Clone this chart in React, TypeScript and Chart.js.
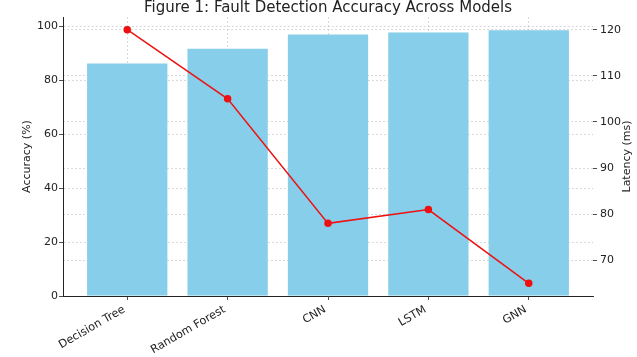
import React, { useEffect, useRef } from "react";
import { Chart, registerables } from "chart.js";

Chart.register(...registerables);

const categories = ["Decision Tree", "Random Forest", "CNN", "LSTM", "GNN"];
const accuracy = [86.2, 91.6, 96.9, 97.7, 98.5];
const latency = [120, 105, 78, 81, 65];
const titleText = "Figure 1: Fault Detection Accuracy Across Models";
const rightTitle = "Latency (ms)";

const FONT = "'DejaVu Sans', sans-serif";
const TEXT = "#222222";
const GRID = "rgba(176,176,176,0.6)";

const titlePlugin = {
  id: "customTitle",
  afterDraw(chart: any) {
    const { ctx, chartArea } = chart;
    ctx.save();
    ctx.font = `15px ${FONT}`;
    ctx.fillStyle = TEXT;
    ctx.textAlign = "center";
    ctx.textBaseline = "middle";
    ctx.fillText(titleText, (chartArea.left + chartArea.right) / 2, 8);
    ctx.translate(627, (chartArea.top + chartArea.bottom) / 2);
    ctx.rotate(-Math.PI / 2);
    ctx.font = `11px ${FONT}`;
    ctx.fillText(rightTitle, 0, 0);
    ctx.restore();
  },
};

export default function App() {
  const ref = useRef<HTMLCanvasElement>(null);
  useEffect(() => {
    document.body.style.margin = "0";
    const n = categories.length;
    const chart = new Chart(ref.current as HTMLCanvasElement, {
      type: "bar",
      data: {
        datasets: [
          {
            type: "line",
            label: "Latency (ms)",
            data: latency.map((v, i) => ({ x: i, y: v })),
            yAxisID: "y1",
            xAxisID: "x",
            borderColor: "#ee1111",
            backgroundColor: "#ee1111",
            borderWidth: 1.5,
            pointRadius: 3,
            pointHoverRadius: 3,
            order: 0,
          } as any,
          {
            type: "bar",
            label: "Accuracy (%)",
            data: accuracy.map((v, i) => ({ x: i, y: v })),
            yAxisID: "y",
            xAxisID: "x",
            backgroundColor: "#87CEEB",
            categoryPercentage: 1,
            barPercentage: 0.8,
            order: 1,
          } as any,
        ],
      },
      options: {
        animation: false,
        responsive: false,
        layout: { padding: { top: 17, left: 0, right: 0, bottom: 0 } },
        plugins: { legend: { display: false }, tooltip: { enabled: false } },
        scales: {
          x: {
            type: "linear",
            offset: false,
            min: -0.64,
            max: n - 1 + 0.64,
            afterFit: (s: any) => {
              s.height = 61;
            },
            ticks: {
              stepSize: 1,
              includeBounds: false,
              autoSkip: false,
              minRotation: 30,
              maxRotation: 30,
              padding: 3,
              labelOffset: -3,
              color: TEXT,
              font: { family: FONT, size: 11.2 },
              callback: (v: any) => {
                const i = Math.round(Number(v));
                return Math.abs(Number(v) - i) < 1e-6 ? categories[i] ?? "" : "";
              },
            },
            grid: {
              offset: false,
              color: GRID,
              lineWidth: 0.8,
              tickColor: TEXT,
              tickLength: 4,
              tickBorderDash: [],
              drawTicks: true,
            } as any,
            border: { display: true, color: TEXT, width: 1, dash: [2, 2] } as any,
          },
          y: {
            type: "linear",
            position: "left",
            min: 0,
            max: 103.4,
            afterFit: (s: any) => {
              s.width = 63;
            },
            ticks: {
              stepSize: 20,
              includeBounds: false,
              color: TEXT,
              padding: 1,
              font: { family: FONT, size: 11 },
            },
            grid: {
              color: GRID,
              lineWidth: 0.8,
              tickColor: TEXT,
              tickLength: 4,
              tickBorderDash: [],
            } as any,
            border: { display: true, color: TEXT, width: 1, dash: [2, 2] } as any,
            title: {
              display: true,
              text: "Accuracy (%)",
              color: TEXT,
              font: { family: FONT, size: 11 },
              padding: { top: 21, bottom: 0 },
            },
          },
          y1: {
            type: "linear",
            position: "right",
            min: 62.25,
            max: 122.75,
            afterFit: (s: any) => {
              s.width = 44;
            },
            ticks: {
              stepSize: 10,
              includeBounds: false,
              color: TEXT,
              padding: 3,
              font: { family: FONT, size: 11 },
            },
            grid: {
              color: GRID,
              lineWidth: 0.8,
              tickColor: TEXT,
              tickLength: 4,
              tickBorderDash: [],
            } as any,
            border: { display: false, dash: [2, 2] } as any,
          },
        },
      },
      plugins: [titlePlugin],
    });
    return () => chart.destroy();
  }, []);
  return (
    <canvas
      ref={ref}
      width={637}
      height={357}
      style={{ display: "block", width: 637, height: 357 }}
    />
  );
}
